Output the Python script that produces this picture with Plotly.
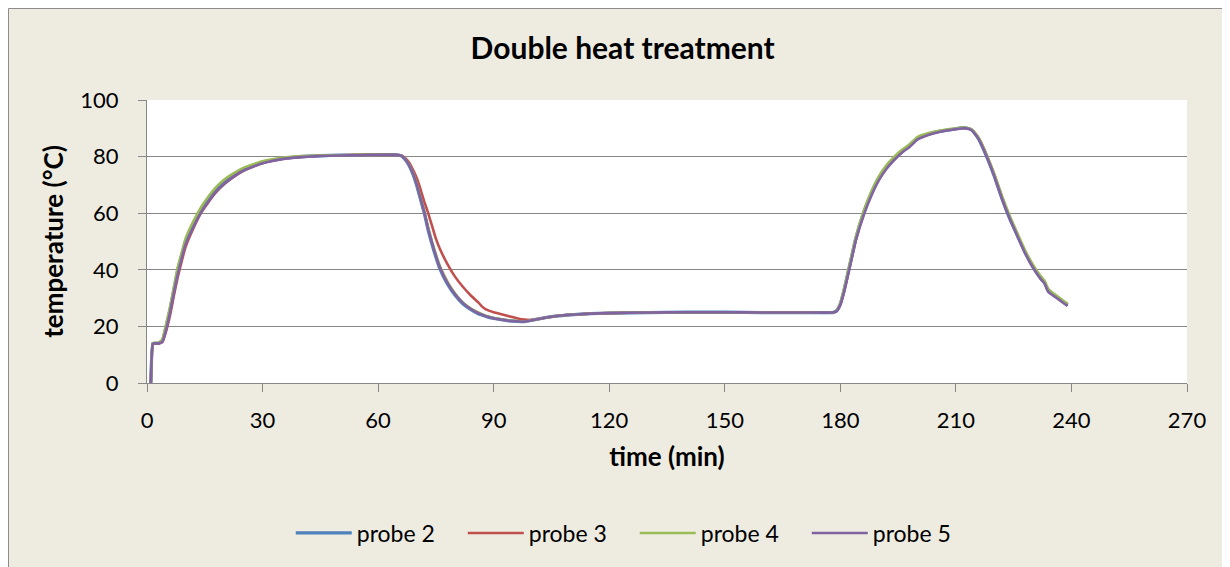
import plotly.graph_objects as go

# time (min) shared by all probes
t = [1, 1.5, 2, 3, 4, 5, 6, 7, 8, 9, 10, 12, 14, 16, 18, 20, 22, 25, 28, 31, 35, 40, 45, 50, 55, 60, 64,
     66, 67, 68, 69, 70, 71, 72, 73, 74, 75, 76, 78, 80, 82, 84, 86, 87, 88, 90, 92, 94, 96, 98, 100,
     103, 106, 110, 115, 120, 130, 140, 150, 160, 170, 178, 179, 180, 181, 182, 183, 184, 186, 188, 190,
     192, 194, 196, 198, 200, 203, 206, 209, 212, 213, 214, 215, 216, 218, 220, 222, 224, 226, 228, 230,
     232, 233, 234, 236, 238, 239]

probe2 = [0, 14, 14, 14, 15, 20, 26, 33, 40, 45, 50, 56, 61, 65, 68.5, 71, 73, 75.5, 77, 78.3, 79.3, 80, 80.3, 80.5, 80.6, 80.7, 80.7,
          80.3, 79, 77, 74, 70, 65, 60, 54, 49, 44.5, 40.5, 35, 31, 28, 26, 24.5, 24, 23.5, 22.8, 22.4, 22, 21.8, 21.7, 22.2,
          23, 23.6, 24.1, 24.5, 24.7, 24.9, 25, 25, 24.9, 24.9, 24.9, 25.5, 28, 33, 39, 45, 51, 60, 67, 72.5,
          76.5, 79.5, 82, 84, 86.5, 88, 89, 89.6, 90.2, 90, 89.5, 88, 86, 80, 73, 65, 58, 52, 46, 41,
          37, 35.5, 32.5, 30.5, 28.5, 27.5]

probe3 = [0, 13.5, 14, 14, 14.5, 18.5, 24, 31, 37.5, 43, 48, 54.5, 60, 64, 67.5, 70.2, 72.4, 75, 76.8, 78.1, 79.2, 79.9, 80.3, 80.5, 80.6, 80.6, 80.6,
          80.4, 79.5, 78, 75.5, 72.5, 68.5, 64, 60, 55.5, 51, 47.5, 42, 37.5, 34, 31, 28.5, 27, 26, 25, 24.3, 23.6, 22.9, 22.4, 22.3,
          23, 23.6, 24.1, 24.5, 24.7, 24.9, 25, 25, 24.9, 24.9, 24.9, 25.4, 27.8, 32.5, 38.5, 44.5, 50.5, 59.5, 66.5, 72,
          76, 79.2, 81.8, 83.8, 86.3, 87.9, 89, 89.6, 90.1, 90, 89.5, 88.2, 86.3, 80.5, 73.5, 65.5, 58.5, 52.3, 46.3, 41.3,
          37.2, 35.7, 32.7, 30.7, 28.7, 27.7]

probe4 = [0, 14, 14.2, 14.2, 15.5, 21, 27, 34, 41, 46, 51, 57, 62, 66, 69.3, 71.8, 73.7, 76, 77.5, 78.7, 79.6, 80.2, 80.4, 80.5, 80.6, 80.6, 80.6,
          80.3, 79.2, 77.3, 74.5, 70.5, 65.5, 60.5, 55, 50, 45.5, 41.5, 35.8, 31.6, 28.5, 26.4, 24.9, 24.3, 23.8, 23, 22.5, 22.1, 21.9, 21.8, 22.2,
          23, 23.6, 24.1, 24.5, 24.7, 24.9, 25, 25, 24.9, 24.9, 24.9, 25.6, 28.3, 33.5, 39.5, 45.5, 51.5, 60.5, 67.5, 73,
          77, 80, 82.4, 84.4, 86.9, 88.3, 89.2, 89.8, 90.3, 90.1, 89.6, 88.3, 86.4, 80.6, 73.8, 66, 59, 52.8, 46.8, 41.8,
          37.8, 36.2, 33.2, 31, 29, 28]

probe5 = [0, 13.8, 14, 14, 14.5, 19, 25, 32, 38.5, 44, 49, 55, 60.2, 64.2, 67.7, 70.3, 72.4, 75, 76.7, 78, 79.1, 79.8, 80.2, 80.4, 80.5, 80.6, 80.6,
          80.3, 79.2, 77.2, 74.3, 70.3, 65.3, 60.3, 54.5, 49.5, 45, 41, 35.4, 31.3, 28.3, 26.2, 24.7, 24.1, 23.6, 22.9, 22.4, 22, 21.8, 21.7, 22.2,
          23, 23.6, 24.1, 24.5, 24.7, 24.9, 25, 25, 24.9, 24.9, 24.9, 25.3, 27.6, 32.3, 38.2, 44.2, 50.2, 59, 66, 71.6,
          75.7, 78.8, 81.4, 83.4, 86, 87.7, 88.8, 89.5, 90, 89.9, 89.4, 88, 86, 80, 73, 65, 58, 51.8, 45.8, 40.8,
          36.8, 35.2, 32.2, 30.2, 28.2, 27.2]

series = [("probe 2", probe2, "#4F81BD", 3.3),
          ("probe 3", probe3, "#C0504D", 2.6),
          ("probe 4", probe4, "#9BBB59", 2.6),
          ("probe 5", probe5, "#8064A2", 2.6)]

font = "Lato, 'Open Sans', sans-serif"
grid = "#878787"

fig = go.Figure()
for name, vals, col, w in series:
    fig.add_trace(go.Scatter(x=t, y=vals, mode="lines", name=name,
                             line=dict(color=col, width=w, shape="spline", smoothing=0.4)))

# grey frame of the chart area (top and left edges visible)
fig.add_shape(type="rect", xref="paper", yref="paper", x0=-138.5 / 1040, x1=1.5, y0=-1.5, y1=374.5 / 283,
              line=dict(color="#8C8C8C", width=1), layer="below")

fig.update_layout(
    width=1222, height=559,
    margin=dict(l=139, r=43, t=92, b=184),
    paper_bgcolor="#EEECE1", plot_bgcolor="white",
    font=dict(family=font, size=22, color="black"),
    title=dict(text="<b>Double heat treatment</b>", x=0.503, xanchor="center", xref="container",
               y=1 - 40 / 559, yanchor="middle", font=dict(size=30)),
    showlegend=True,
    legend=dict(orientation="h", x=0.469, xanchor="center", y=-0.530, yanchor="middle",
                bgcolor="rgba(0,0,0,0)", font=dict(size=23), itemwidth=56,
                entrywidth=101, entrywidthmode="pixels"),
)
fig.update_xaxes(range=[0, 270], tick0=0, dtick=30, showgrid=False, zeroline=False,
                 showline=True, linecolor=grid, linewidth=1, ticks="outside", ticklen=8, tickcolor=grid,
                 ticklabelstandoff=10,
                 title=dict(text="<b>time (min)</b>", font=dict(size=26), standoff=15))
fig.update_yaxes(range=[0, 100], tick0=0, dtick=20, showgrid=True, gridcolor=grid, gridwidth=1,
                 zeroline=False, showline=True, linecolor=grid, linewidth=1, ticks="outside", ticklen=8,
                 tickcolor=grid, ticklabelstandoff=15,
                 title=dict(text="<b>temperature (°C)</b>", font=dict(size=26), standoff=9))

fig.write_html("out.html")
